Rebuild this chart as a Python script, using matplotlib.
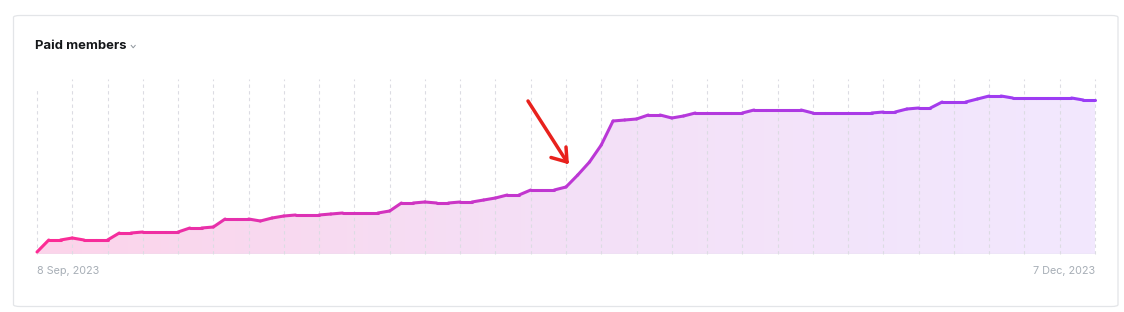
import numpy as np
import matplotlib
matplotlib.use("Agg")
import matplotlib.pyplot as plt
from matplotlib.collections import LineCollection
from matplotlib.colors import LinearSegmentedColormap
from matplotlib.patches import FancyBboxPatch
from matplotlib.lines import Line2D

plt.rcParams['font.family'] = ['Inter', 'DejaVu Sans']

# paid members per day, 8 Sep 2023 -> 7 Dec 2023 (arbitrary units)
members = [
    2, 14, 14, 16, 14, 14, 14, 21, 21, 22,
    22, 22, 22, 26, 26, 27, 35, 35, 35, 33,
    36, 38, 39, 39, 39, 40, 41, 41, 41, 41,
    43, 51, 51, 52, 51, 51, 52, 52, 54, 56,
    59, 59, 64, 64, 64, 67, 79, 92, 109, 133,
    134, 135, 139, 139, 136, 138, 141, 141, 141, 141,
    141, 144, 144, 144, 144, 144, 141, 141, 141, 141,
    141, 141, 142, 142, 145, 146, 146, 152, 152, 152,
    155, 158, 158, 156, 156, 156, 156, 156, 156, 154,
    154,
]
date_labels = ["8 Sep, 2023", "7 Dec, 2023"]
title = "Paid members"

W, H = 1124, 312
days = np.arange(len(members))
vals = np.array(members, dtype=float)

fig = plt.figure(figsize=(W / 100, H / 100), dpi=100)
fig.patch.set_facecolor("white")

def px(x, y):
    # figure pixel (from top-left) -> figure fraction
    return x / W, 1 - y / H

# card
card = FancyBboxPatch(px(13.5, 306.5), (1118 - 13.5) / W, (306.5 - 15.5) / H,
                      boxstyle="round,pad=0,rounding_size=0.006",
                      transform=fig.transFigure, facecolor="white",
                      edgecolor="#e3e5e8", linewidth=0.9, zorder=-5)
fig.patches.append(card)

ax = fig.add_axes([37 / W, (H - 254) / H, (1095 - 37) / W, 175 / H])
ax.set_zorder(2)
ax.set_xlim(0, days[-1])
ax.set_ylim(0, 175)
ax.set_facecolor("none")
for s in ax.spines.values():
    s.set_visible(False)
ax.set_yticks([])

# gradient fill under the line
fill_cmap = LinearSegmentedColormap.from_list("fill", ["#fcd4ea", "#f4e0f7", "#f2e8fe"])
poly = ax.fill_between(days, vals, 0, facecolor="none", edgecolor="none")
grad = np.linspace(0, 1, 256).reshape(1, -1)
im = ax.imshow(grad, cmap=fill_cmap, aspect="auto", extent=[0, days[-1], 0, 175],
               origin="lower", zorder=1)
im.set_clip_path(poly.get_paths()[0], transform=ax.transData)

# dashed vertical grid every 3 days
for i, d in enumerate(days[::3]):
    top = 164 if i == 0 else 175
    ax.plot([d, d], [0, top], color="#dcdce3", lw=0.8, ls=(0, (3, 3)), zorder=2,
            clip_on=False)
ax.axhline(0, color="#e2e2ea", lw=1.0, zorder=2)

# gradient line
line_cmap = LinearSegmentedColormap.from_list("line", ["#fd2c95", "#bd37d4", "#9a3df6"])
pts = np.column_stack([days, vals]).reshape(-1, 1, 2)
segs = np.concatenate([pts[:-1], pts[1:]], axis=1)
lc = LineCollection(segs, cmap=line_cmap, linewidth=2.2, capstyle="round",
                    joinstyle="round", zorder=3, clip_on=False)
lc.set_array(days[:-1] / days[-1])
ax.add_collection(lc)

# date labels
ax.set_xticks([days[0], days[-1]])
ax.set_xticklabels(date_labels)
ax.tick_params(axis="x", length=0, pad=9, labelsize=7.8, labelcolor="#a7aeb6")
labs = ax.get_xticklabels()
labs[0].set_ha("left")
labs[-1].set_ha("right")

# title and chevron
fig.text(*px(35, 46), title, fontsize=9.4, fontweight="bold", color="#15171a",
         va="center", ha="left")
cx, cy = [], []
for x, y in [(131.2, 45.4), (133.2, 47.8), (135.2, 45.4)]:
    fx, fy = px(x, y)
    cx.append(fx)
    cy.append(fy)
fig.add_artist(Line2D(cx, cy, color="#8e959c", lw=0.7, transform=fig.transFigure))

# red hand-drawn arrow
red = "#e8211d"
for (x0, y0), (x1, y1) in [((528, 101), (567, 162)), ((551, 157.5), (567, 162)),
                           ((566, 147), (567, 162))]:
    a, b = px(x0, y0)
    c, d = px(x1, y1)
    fig.add_artist(Line2D([a, c], [b, d], color=red, lw=2.5, solid_capstyle="round",
                          transform=fig.transFigure, zorder=10))

fig.savefig("out.png", dpi=100, facecolor="white")
